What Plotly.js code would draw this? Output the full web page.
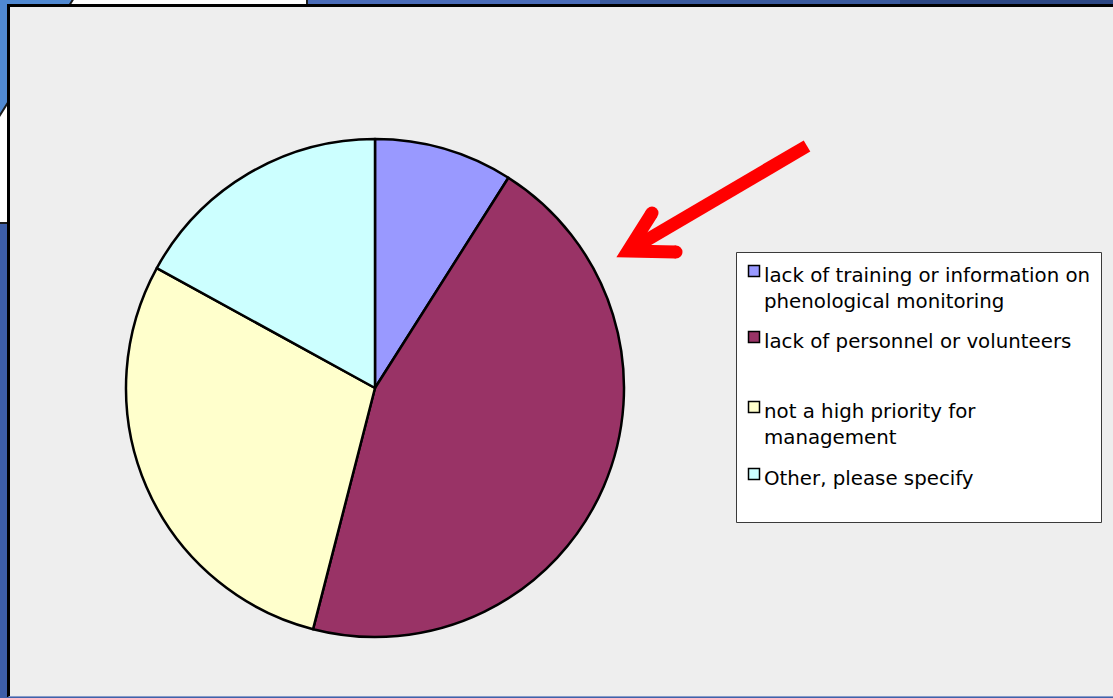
<!DOCTYPE html>
<html>
<head>
<meta charset="utf-8">
<script src="https://cdn.plot.ly/plotly-3.0.1.min.js"></script>
<style>html,body{margin:0;padding:0;background:#3f62ab;}#chart{width:1113px;height:698px;}</style>
</head>
<body>
<div id="chart"></div>
<script>
// ---- data ----
const categories = [
  'lack of training or information on phenological monitoring',
  'lack of personnel or volunteers',
  'not a high priority for management',
  'Other, please specify'
];
const legendLines = [
  ['lack of training or information on', 'phenological monitoring'],
  ['lack of personnel or volunteers'],
  ['not a high priority for', 'management'],
  ['Other, please specify']
];
const shares = [9, 45, 29, 17];
const sliceColors = ['#9999ff', '#993366', '#ffffcc', '#ccffff'];

// ---- helpers (pixel -> paper) ----
const W = 1113, H = 698;
const px = x => x / W;
const py = y => 1 - y / H;
function rect(x0, y0, x1, y1, fill, lineColor, lw, layer) {
  return {type: 'rect', xref: 'paper', yref: 'paper',
    x0: px(x0), x1: px(x1), y0: py(y1), y1: py(y0),
    fillcolor: fill, line: {color: lineColor || 'rgba(0,0,0,0)', width: lw || 0},
    layer: layer || 'below'};
}
function path(pts, closed, fill, lineColor, lw, layer) {
  let d = pts.map((p, i) => (i ? 'L' : 'M') + px(p[0]).toFixed(5) + ',' + py(p[1]).toFixed(5)).join(' ');
  if (closed) d += ' Z';
  return {type: 'path', xref: 'paper', yref: 'paper', path: d,
    fillcolor: fill || 'rgba(0,0,0,0)', line: {color: lineColor || 'rgba(0,0,0,0)', width: lw || 0},
    layer: layer || 'below'};
}
function circle(cx, cy, r, fill, layer) {
  return {type: 'circle', xref: 'paper', yref: 'paper',
    x0: px(cx - r), x1: px(cx + r), y0: py(cy + r), y1: py(cy - r),
    fillcolor: fill, line: {width: 0}, layer: layer || 'above'};
}

const shapes = [];
// slide background bits
shapes.push(rect(-5, -5, 90, 140, '#5089d2'));
shapes.push(rect(300, -5, 600, 8, '#4a6cb8'));
shapes.push(rect(600, -5, 900, 8, '#3a5a9e'));
shapes.push(rect(900, -5, 1120, 8, '#2c4784'));
shapes.push(rect(-5, 222, 8, 700, '#3d5ea8'));
// white box behind panel
shapes.push(path([[-10, 131], [79, -10], [307, -10], [307, 223], [-10, 223]], true, '#ffffff', '#1a1a1a', 2));
// grey panel
shapes.push(rect(8.5, 5.5, 1125, 696, '#eeeeee'));
shapes.push(path([[8.5, 697], [8.5, 5.5], [1125, 5.5]], false, null, '#000000', 3));
shapes.push(path([[8.5, 696.5], [1125, 696.5]], false, null, '#8a9cc8', 1));
// legend box
shapes.push(rect(736.5, 252.5, 1101.5, 522.5, '#ffffff', '#3a3a3a', 1));
// red arrow
shapes.push(path([[807, 146], [628, 251]], false, null, '#ff0000', 13, 'above'));
shapes.push(path([[652, 213], [628, 251], [676, 252]], false, null, '#ff0000', 13, 'above'));
shapes.push(circle(652, 213, 6.5, '#ff0000'));
shapes.push(circle(676, 252, 6.5, '#ff0000'));

// custom legend
const legendBaselines = [282, 348, 418, 485];
const annotations = [];
categories.forEach((c, i) => {
  const b = legendBaselines[i];
  const sq = 11, cx = 754, cy = b - 11;
  shapes.push(rect(cx - sq / 2, cy - sq / 2, cx + sq / 2, cy + sq / 2, sliceColors[i], '#000000', 1.5, 'above'));
  const n = legendLines[i].length;
  const center = (b - 6.7) + (n - 1) * 13;
  annotations.push({
    xref: 'paper', yref: 'paper', x: px(762), y: py(center),
    xanchor: 'left', yanchor: 'middle', align: 'left', showarrow: false,
    text: legendLines[i].join('<br>'),
    font: {family: 'DejaVu Sans', size: 19.8, color: '#000000'}
  });
});

const trace = {
  type: 'pie',
  labels: categories,
  values: shares,
  sort: false,
  direction: 'clockwise',
  rotation: 0,
  textinfo: 'none',
  hoverinfo: 'label+percent',
  marker: {colors: sliceColors, line: {color: '#000000', width: 2.5}},
  domain: {x: [px(126), px(624)], y: [py(637), py(139)]},
  showlegend: false
};

const layout = {
  width: W, height: H,
  margin: {l: 0, r: 0, t: 0, b: 0},
  paper_bgcolor: '#3f62ab',
  showlegend: false,
  shapes: shapes,
  annotations: annotations,
  font: {family: 'DejaVu Sans'}
};

Plotly.newPlot('chart', [trace], layout, {displayModeBar: false, staticPlot: true});
</script>
</body>
</html>
